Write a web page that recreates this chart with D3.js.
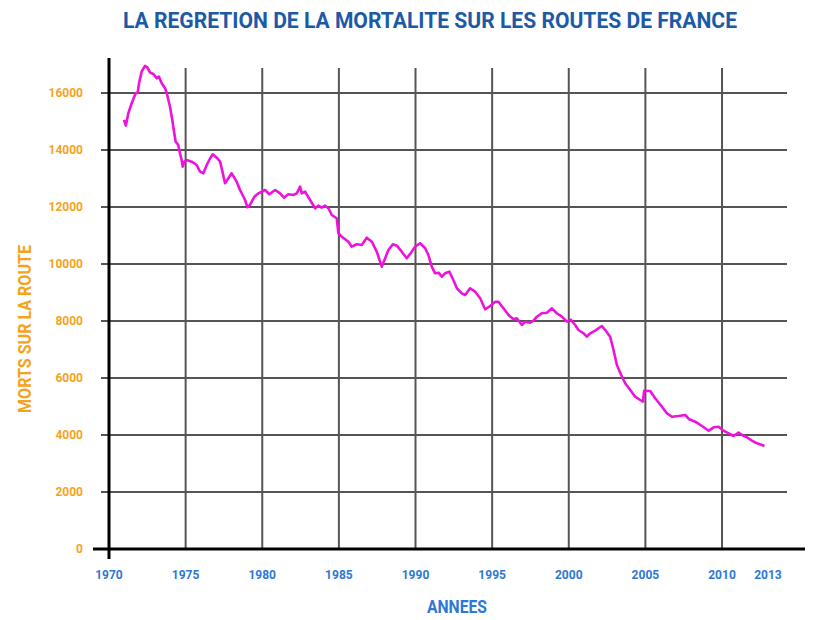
<!DOCTYPE html>
<html>
<head>
<meta charset="utf-8">
<script src="https://cdn.jsdelivr.net/npm/d3@7"></script>
<style>
  html, body { margin: 0; padding: 0; background: #fff; }
  svg { display: block; }
</style>
</head>
<body>
<svg id="chart" width="816" height="620"></svg>
<script>
// ---- data ----
const title = "LA REGRETION DE LA MORTALITE SUR LES ROUTES DE FRANCE";
const yTitle = "MORTS SUR LA ROUTE";
const xTitle = "ANNEES";
const xTickValues = [1970, 1975, 1980, 1985, 1990, 1995, 2000, 2005, 2010, 2013];
const xGridValues = [1975, 1980, 1985, 1990, 1995, 2000, 2005, 2010];
const yTickValues = [0, 2000, 4000, 6000, 8000, 10000, 12000, 14000, 16000];

const years = [
  1970.98, 1971.1, 1971.26, 1971.48, 1971.74, 1971.87, 1971.96, 1972.13, 1972.35, 1972.5,
  1972.68, 1972.9, 1973.11, 1973.26, 1973.44, 1973.66, 1973.77, 1973.98, 1974.13, 1974.26,
  1974.35, 1974.52, 1974.63, 1974.74, 1974.81, 1974.92, 1975.07, 1975.4, 1975.72, 1975.94,
  1976.16, 1976.38, 1976.6, 1976.77, 1977.03, 1977.25, 1977.4, 1977.57, 1977.79, 1978.0,
  1978.33, 1978.55, 1978.88, 1979.03, 1979.2, 1979.49, 1979.75, 1980.07, 1980.18, 1980.46,
  1980.84, 1981.16, 1981.42, 1981.7, 1982.03, 1982.25, 1982.47, 1982.58, 1982.79, 1983.12,
  1983.45, 1983.66, 1983.88, 1984.1, 1984.32, 1984.54, 1984.86, 1984.97, 1985.19, 1985.47,
  1985.62, 1985.84, 1986.17, 1986.49, 1986.82, 1987.15, 1987.47, 1987.8, 1988.02, 1988.23,
  1988.52, 1988.78, 1989.1, 1989.43, 1989.7, 1989.97, 1990.3, 1990.63, 1990.84, 1991.06,
  1991.28, 1991.5, 1991.72, 1991.93, 1992.21, 1992.47, 1992.7, 1993.02, 1993.24, 1993.56,
  1993.89, 1994.22, 1994.54, 1994.87, 1995.2, 1995.41, 1995.74, 1996.07, 1996.39, 1996.61,
  1996.94, 1997.15, 1997.48, 1997.7, 1997.92, 1998.24, 1998.57, 1998.9, 1999.22, 1999.55,
  1999.88, 2000.12, 2000.42, 2000.63, 2000.96, 2001.18, 2001.4, 2001.72, 2002.16, 2002.38,
  2002.7, 2002.92, 2003.14, 2003.42, 2003.68, 2004.01, 2004.33, 2004.66, 2004.84, 2004.92,
  2005.31, 2005.64, 2006.08, 2006.4, 2006.73, 2007.16, 2007.6, 2007.86, 2008.25, 2008.69,
  2009.13, 2009.46, 2009.78, 2010.1, 2010.43, 2010.75, 2011.08, 2011.3, 2011.62, 2011.95,
  2012.28, 2012.6, 2012.77
];
const deaths = [
  15054, 14855, 15289, 15640, 15990, 16012, 16341, 16750, 16950, 16900,
  16714, 16668, 16517, 16573, 16341, 16166, 15990, 15520, 15054, 14587,
  14292, 14177, 13885, 13650, 13415, 13591, 13650, 13591, 13474, 13240,
  13183, 13474, 13710, 13850, 13731, 13591, 13240, 12832, 13008, 13183,
  12889, 12597, 12246, 11990, 12071, 12363, 12480, 12562, 12597, 12446,
  12597, 12480, 12327, 12446, 12422, 12480, 12713, 12480, 12538, 12246,
  11955, 12047, 11977, 12047, 11955, 11720, 11604, 11078, 10959, 10843,
  10783, 10608, 10692, 10668, 10924, 10783, 10432, 9906, 10201, 10492,
  10692, 10643, 10432, 10201, 10390, 10608, 10727, 10551, 10316, 9906,
  9674, 9695, 9555, 9674, 9730, 9439, 9148, 8972, 8913, 9148,
  9029, 8797, 8411, 8527, 8678, 8678, 8446, 8211, 8060, 8095,
  7860, 7976, 7941, 8011, 8151, 8271, 8292, 8446, 8271, 8151,
  7976, 8050, 7860, 7685, 7569, 7450, 7569, 7660, 7825, 7685,
  7450, 6983, 6457, 6106, 5814, 5579, 5344, 5228, 5169, 5555,
  5544, 5288, 4993, 4762, 4642, 4667, 4702, 4551, 4467, 4316,
  4151, 4270, 4291, 4151, 4060, 3965, 4081, 4000, 3920, 3800,
  3709, 3650, 3614
];

// ---- drawing ----
const svg = d3.select("#chart");
const x = d3.scaleLinear().domain([1970, 2013]).range([109, 768]);
const y = d3.scaleLinear().domain([0, 16000]).range([549, 93]);

const gridRight = 787;
const gridTop = 68;
const font = "'Liberation Sans Narrow', 'Roboto', sans-serif";

// horizontal grid lines (with small tick on left of axis)
svg.append("g").selectAll("line").data(yTickValues.filter(d => d > 0)).join("line")
  .attr("x1", x(1970) - 8).attr("x2", gridRight)
  .attr("y1", d => y(d)).attr("y2", d => y(d))
  .attr("stroke", "#555").attr("stroke-width", 2);

// vertical grid lines
svg.append("g").selectAll("line").data(xGridValues).join("line")
  .attr("x1", d => x(d)).attr("x2", d => x(d))
  .attr("y1", gridTop).attr("y2", y(0))
  .attr("stroke", "#555").attr("stroke-width", 2);

// axes
svg.append("line")
  .attr("x1", x(1970)).attr("x2", x(1970))
  .attr("y1", 58).attr("y2", y(0) + 10)
  .attr("stroke", "#000").attr("stroke-width", 3);
svg.append("line")
  .attr("x1", x(1970) - 16).attr("x2", 805)
  .attr("y1", y(0)).attr("y2", y(0))
  .attr("stroke", "#000").attr("stroke-width", 3);

// y tick labels
svg.append("g").selectAll("text").data(yTickValues).join("text")
  .attr("x", 83).attr("y", d => y(d))
  .attr("dy", "0.35em")
  .attr("text-anchor", "end")
  .attr("font-family", font)
  .attr("font-weight", "bold").attr("font-size", 12)
  .attr("fill", "#F5A31C")
  .text(d => d);

// x tick labels
svg.append("g").selectAll("text").data(xTickValues).join("text")
  .attr("x", d => x(d)).attr("y", 579)
  .attr("text-anchor", "middle")
  .attr("font-family", font)
  .attr("font-weight", "bold").attr("font-size", 12)
  .attr("fill", "#2C78D6")
  .text(d => d);

// line
const line = d3.line().x((d, i) => x(years[i])).y(d => y(d));
svg.append("path")
  .attr("d", line(deaths))
  .attr("fill", "none")
  .attr("stroke", "#EE12DC")
  .attr("stroke-width", 2.6)
  .attr("stroke-linejoin", "round");

// title
svg.append("text")
  .attr("x", 430).attr("y", 28)
  .attr("text-anchor", "middle")
  .attr("font-family", font)
  .attr("font-weight", "bold").attr("font-size", 22)
  .attr("fill", "#1C5AA8")
  .attr("textLength", 614).attr("lengthAdjust", "spacingAndGlyphs")
  .text(title);

// y title
svg.append("text")
  .attr("transform", "translate(31,329) rotate(-90)")
  .attr("text-anchor", "middle")
  .attr("font-family", font)
  .attr("font-weight", "bold").attr("font-size", 18)
  .attr("fill", "#F5A31C")
  .attr("textLength", 168).attr("lengthAdjust", "spacingAndGlyphs")
  .text(yTitle);

// x title
svg.append("text")
  .attr("x", 457).attr("y", 613)
  .attr("text-anchor", "middle")
  .attr("font-family", font)
  .attr("font-weight", "bold").attr("font-size", 18)
  .attr("fill", "#2C78D6")
  .attr("textLength", 60).attr("lengthAdjust", "spacingAndGlyphs")
  .text(xTitle);
</script>
</body>
</html>
